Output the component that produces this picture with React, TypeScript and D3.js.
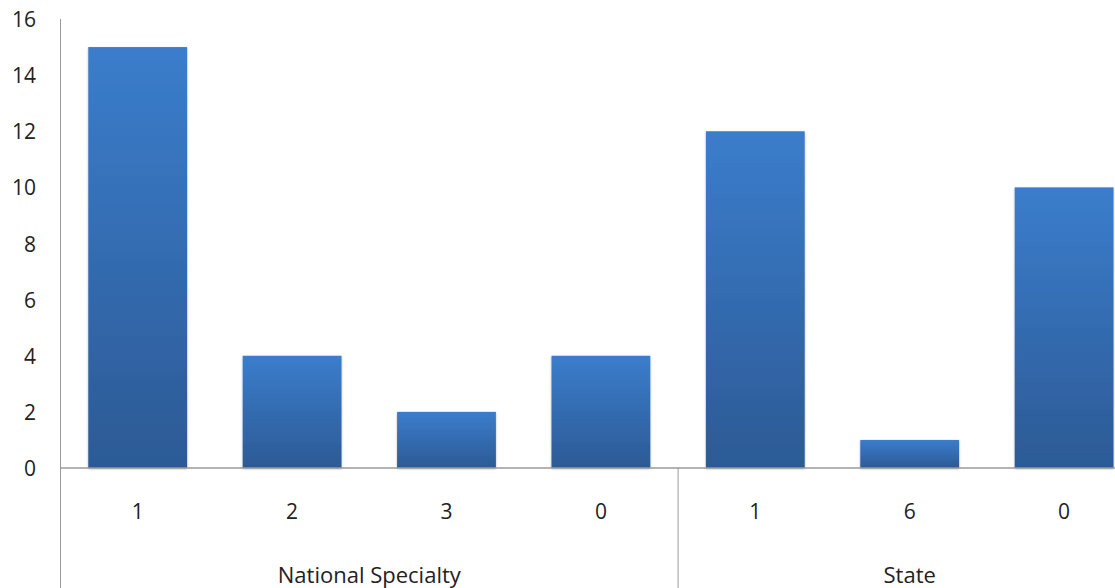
import React from "react";
import * as d3 from "d3";

// Values per category, grouped under two top-level headings
const categories = ["1", "2", "3", "0", "1", "6", "0"];
const values = [15, 4, 2, 4, 12, 1, 10];
const groups = [
  { name: "National Specialty", start: 0, end: 4 },
  { name: "State", start: 4, end: 7 },
];
const yTicks = [0, 2, 4, 6, 8, 10, 12, 14, 16];

const W = 1115;
const H = 588;
const left = 60.5;
const step = 154.4;
const top = 19;
const zeroY = 468;

export default function App() {
  const keys = categories.map((_, i) => i);
  const x = d3
    .scaleBand<number>()
    .domain(keys)
    .range([left, left + step * categories.length])
    .paddingInner(0.36)
    .paddingOuter(0.18);
  const y = d3.scaleLinear().domain([0, 16]).range([zeroY, top]);
  const font = "'Open Sans', Lato, sans-serif";
  const axisColor = "#9a9a9a";
  const fs = 21;

  return (
    <svg
      width={W}
      height={H}
      style={{ position: "absolute", left: 0, top: 0, background: "#fff" }}
    >
      <defs>
        <linearGradient id="barGrad" x1="0" y1="0" x2="0" y2="1">
          <stop offset="0%" stopColor="#3b7dcc" />
          <stop offset="100%" stopColor="#2c5a95" />
        </linearGradient>
        <filter id="shadow" x="-10%" y="-10%" width="120%" height="120%">
          <feDropShadow dx="0" dy="1" stdDeviation="1.2" floodColor="#000" floodOpacity="0.3" />
        </filter>
      </defs>

      {/* bars */}
      {values.map((v, i) => (
        <rect
          key={i}
          x={x(i)!}
          y={y(v)}
          width={x.bandwidth()}
          height={y(0) - y(v)}
          fill="url(#barGrad)"
          filter="url(#shadow)"
        />
      ))}

      {/* y axis */}
      <line x1={left} x2={left} y1={top} y2={H} stroke={axisColor} strokeWidth={1} />
      {yTicks.map((t) => (
        <text
          key={t}
          x={36}
          y={y(t)}
          textAnchor="end"
          dominantBaseline="central"
          fontFamily={font}
          fontSize={fs}
          fill="#222"
        >
          {t}
        </text>
      ))}

      {/* baseline */}
      <line x1={left} x2={W} y1={zeroY} y2={zeroY} stroke={axisColor} strokeWidth={1.5} />

      {/* category labels */}
      {categories.map((c, i) => (
        <text
          key={i}
          x={x(i)! + x.bandwidth() / 2}
          y={511}
          textAnchor="middle"
          dominantBaseline="central"
          fontFamily={font}
          fontSize={fs}
          fill="#222"
        >
          {c}
        </text>
      ))}

      {/* group separators and labels */}
      {groups.map((g) => {
        const x0 = left + g.start * step;
        const x1 = left + g.end * step;
        return (
          <g key={g.name}>
            {g.start > 0 && (
              <line x1={x0} x2={x0} y1={zeroY} y2={H} stroke={axisColor} strokeWidth={1} />
            )}
            <text
              x={(x0 + x1) / 2}
              y={574}
              textAnchor="middle"
              dominantBaseline="central"
              fontFamily={font}
              fontSize={22}
              fill="#222"
            >
              {g.name}
            </text>
          </g>
        );
      })}
    </svg>
  );
}
